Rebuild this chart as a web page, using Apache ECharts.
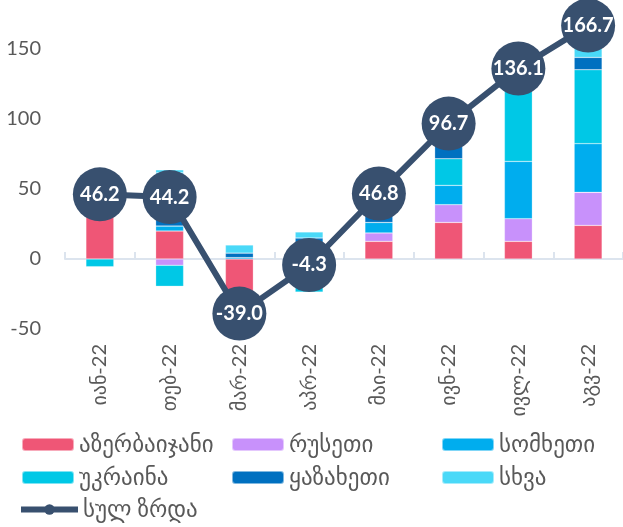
<!DOCTYPE html>
<html lang="ka">
<head>
    <meta charset="utf-8">
    <title>ექსპორტის ზრდა</title>
    <style>
        * {
            margin: 0;
            padding: 0;
        }

        #chart {
            width: 623px;
            height: 527px;
        }
    </style>
</head>
<body>
<div id="chart"></div>
<script src="https://cdn.jsdelivr.net/npm/echarts@6/dist/echarts.min.js"></script>
<script>
    // თვეები
    const months = ['იან-22', 'თებ-22', 'მარ-22', 'აპრ-22', 'მაი-22', 'ივნ-22', 'ივლ-22', 'აგვ-22'];

    // ქვეყნების წვლილი
    const azerbaijan = [49, 20, -48, 5, 12.6, 26.1, 12.6, 24];
    const russia = [0, -4.5, -1, 0, 6, 12.7, 16.2, 23.6];
    const armenia = [1, 3.5, 1, 3, 7.5, 13.8, 40.9, 34.8];
    const ukraine = [-5.5, -15, 0, -23.6, 0, 19, 55, 52.8];
    const kazakhstan = [1, 38, 3.2, 7, 16, 15, 7, 8.8];
    const other = [0.7, 2.2, 5.8, 4.3, 4.7, 10.1, 4.4, 22.7];

    // სულ ზრდა
    const total = [46.2, 44.2, -39.0, -4.3, 46.8, 96.7, 136.1, 166.7];

    const font = 'Lato, "DejaVu Sans", sans-serif';
    const textColor = '#595959';

    const barSeries = [
        ['აზერბაიჯანი', azerbaijan, '#EF5676'],
        ['რუსეთი', russia, '#C891FB'],
        ['სომხეთი', armenia, '#00ADEE'],
        ['უკრაინა', ukraine, '#00C8E6'],
        ['ყაზახეთი', kazakhstan, '#0070C0'],
        ['სხვა', other, '#4AD9F8']
    ];

    // ლეგენდის განლაგება: [სახელი, left, top]
    const legendSpots = [
        ['აზერბაიჯანი', 21, 433],
        ['რუსეთი', 231, 433],
        ['სომხეთი', 441, 433],
        ['უკრაინა', 21, 466],
        ['ყაზახეთი', 231, 466],
        ['სხვა', 441, 466],
        ['სულ ზრდა', 18, 498]
    ];

    const chart = echarts.init(document.getElementById('chart'), null, {renderer: 'canvas'});

    const series = barSeries.map(function (s) {
        return {
            name: s[0],
            type: 'bar',
            stack: 'total',
            barWidth: '40%',
            data: s[1],
            itemStyle: {color: s[2], borderColor: 'rgba(255,255,255,0.5)', borderWidth: 0.5}
        };
    });
    series.push({
        name: 'სულ ზრდა',
        type: 'line',
        data: total,
        z: 10,
        symbol: 'circle',
        symbolSize: 54,
        lineStyle: {color: '#38506F', width: 6},
        itemStyle: {color: '#38506F'},
        label: {
            show: true,
            position: 'inside',
            color: '#fff',
            fontFamily: font,
            fontWeight: 'bold',
            fontSize: 20,
            formatter: function (p) {
                return p.value.toFixed(1);
            }
        }
    });

    const legends = legendSpots.map(function (l) {
        const isLine = l[0] === 'სულ ზრდა';
        return {
            data: [l[0]],
            left: l[1],
            top: l[2],
            padding: 0,
            itemWidth: isLine ? 57 : 52,
            itemHeight: 13,
            itemGap: 4,
            selectedMode: false,
            lineStyle: {width: 6},
            textStyle: {fontFamily: font, fontSize: 23, color: textColor}
        };
    });

    const option = {
        animation: false,
        textStyle: {fontFamily: font},
        grid: {left: 65, right: 0, top: 14, bottom: 198, containLabel: false},
        legend: legends,
        xAxis: [
            {
                type: 'category',
                data: months,
                axisLine: {show: false, onZero: false},
                axisTick: {show: false},
                axisLabel: {
                    rotate: 90,
                    margin: 15,
                    fontFamily: font,
                    fontSize: 20,
                    color: textColor
                }
            },
            {
                type: 'category',
                data: months,
                axisLine: {onZero: true, lineStyle: {color: '#DCE4EE', width: 2}},
                axisTick: {show: true, length: 7, lineStyle: {color: '#DCE4EE', width: 2}},
                axisLabel: {show: false}
            }
        ],
        yAxis: {
            type: 'value',
            min: -50,
            max: 175,
            interval: 50,
            splitLine: {show: false},
            axisLine: {show: false},
            axisTick: {show: false},
            axisLabel: {
                showMaxLabel: false,
                margin: 24,
                fontFamily: font,
                fontSize: 20,
                color: textColor
            }
        },
        series: series
    };
    chart.setOption(option);
</script>
</body>
</html>
